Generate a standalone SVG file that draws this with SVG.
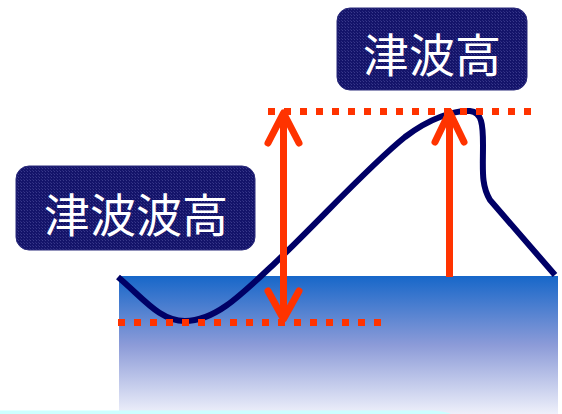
<svg xmlns="http://www.w3.org/2000/svg" width="562" height="414" viewBox="0 0 562 414">
  <defs>
    <linearGradient id="sea" x1="0" y1="0" x2="0" y2="1">
      <stop offset="0" stop-color="#1767c9"/>
      <stop offset="0.5" stop-color="#8c9bd8"/>
      <stop offset="1" stop-color="#eef0fa"/>
    </linearGradient>
    <pattern id="cloth" width="3" height="3" patternUnits="userSpaceOnUse">
      <rect width="3" height="3" fill="#14146a"/>
      <rect x="0" y="0" width="1" height="1" fill="#3a3a8c"/>
      <rect x="2" y="2" width="1" height="1" fill="#2c2c80"/>
    </pattern>
    <style>
      .dots { stroke: #ff3300; stroke-width: 7; stroke-dasharray: 7 9; fill: none; }
      .arrow { stroke: #ff3300; stroke-width: 7; fill: none; stroke-linecap: round; stroke-linejoin: round; }
      .shaft { stroke: #ff3300; stroke-width: 7; fill: none; }
      .box { fill: url(#cloth); stroke: #2a2a7a; stroke-width: 1; }
      .lbl { fill: #ffffff; font-family: "Noto Sans CJK JP", "Noto Sans CJK SC", sans-serif; font-size: 46px; text-anchor: middle; dominant-baseline: central; }
    </style>
  </defs>
  <rect width="562" height="414" fill="#ffffff"/>
  <rect id="sea-area" x="119" y="276" width="439" height="138" fill="url(#sea)"/>
  <path id="wave" d="M118,277 C145,300 160,321 185,321 C215,321 240,296 275,263 C320,220 370,165 405,137 C430,118 455,110 470,111 C482,112 483,125 483,145 C483,170 481,185 490,200 L555,275" fill="none" stroke="#000066" stroke-width="6"/>
  <g id="reference-lines">
    <line class="dots" x1="268" y1="111.5" x2="531" y2="111.5"/>
    <line class="dots" x1="118" y1="322.5" x2="381" y2="322.5"/>
  </g>
  <g id="connectors">
    <g id="arrow-wave-height">
      <line class="shaft" x1="283.5" y1="114" x2="283.5" y2="318"/>
      <polyline class="arrow" points="268,143 283.5,113 299,143"/>
      <polyline class="arrow" points="268,291 283.5,319 299,291"/>
    </g>
    <g id="arrow-tsunami-height">
      <line class="shaft" x1="449.5" y1="113" x2="449.5" y2="277"/>
      <polyline class="arrow" points="435,142 449.5,112 464,142"/>
    </g>
  </g>
  <g id="label-tsunami-height">
    <rect class="box" x="337" y="8" width="190" height="82" rx="13"/>
    <text class="lbl" x="432" y="52">津波高</text>
  </g>
  <g id="label-wave-height">
    <rect class="box" x="16" y="166" width="239" height="84" rx="13"/>
    <text class="lbl" x="136" y="212">津波波高</text>
  </g>
  <path id="strip" d="M0,410.5 H432 Q445,411 451,414 H0 Z" fill="#ccffff"/>
</svg>
